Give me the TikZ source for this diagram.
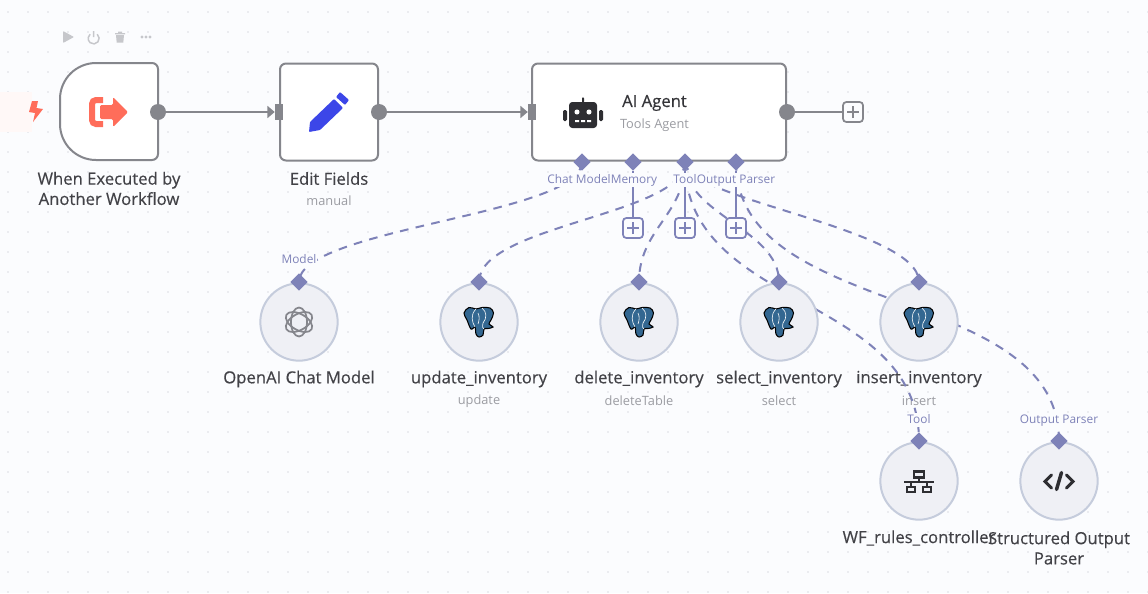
\documentclass[tikz,border=0pt]{standalone}
\usepackage{fontspec}
\setmainfont{Open Sans}
\newfontfamily\semifont[FakeBold=0.4]{Open Sans}
\usetikzlibrary{arrows.meta,shapes.geometric,backgrounds}
\definecolor{canvas}{HTML}{FBFCFE}
\definecolor{griddot}{HTML}{B8B9C2}
\definecolor{wire}{HTML}{85868C}
\definecolor{lilac}{HTML}{7E82B8}
\definecolor{ink}{HTML}{424247}
\definecolor{soft}{HTML}{9B9CA2}
\definecolor{subfill}{HTML}{EFF0F5}
\definecolor{subline}{HTML}{C5CCDC}
\definecolor{flame}{HTML}{FF6D5A}
\definecolor{pgblue}{HTML}{336791}
\definecolor{pen}{HTML}{3C46E8}
\definecolor{toolgrey}{HTML}{C6C7CB}
\tikzset{
 mainbox/.style={draw=wire,fill=white,line width=1.5pt,rounded corners=4.5pt,inner sep=0pt},
 outdot/.style={circle,fill=wire,inner sep=0pt,minimum size=12pt},
 insquare/.style={rectangle,fill=wire,inner sep=0pt,minimum width=6pt,minimum height=12pt},
 link/.style={draw=wire,line width=1.5pt},
 port/.style={diamond,fill=lilac,inner sep=0pt,minimum size=13pt},
 subnode/.style={circle,draw=subline,fill=subfill,line width=1.5pt,inner sep=0pt,minimum size=58pt},
 dashlink/.style={draw=lilac,line width=1.5pt,dash pattern=on 6.5pt off 5.5pt},
 sololink/.style={draw=lilac,line width=1.5pt},
 addbox/.style={rectangle,draw=#1,fill=canvas,line width=1.3pt,rounded corners=2.5pt,inner sep=0pt,minimum size=15pt,
  path picture={\draw[#1,line width=1.2pt]
   ([xshift=-4.5pt]path picture bounding box.center)--([xshift=4.5pt]path picture bounding box.center)
   ([yshift=-4.5pt]path picture bounding box.center)--([yshift=4.5pt]path picture bounding box.center);}},
 title/.style={font=\semifont\fontsize{12.5}{15}\selectfont,text=ink,align=center,inner sep=0pt},
 subtitle/.style={font=\fontsize{9.6}{12}\selectfont,text=soft,inner sep=0pt},
 portlabel/.style={font=\fontsize{8.9}{11}\selectfont,text=lilac,fill=canvas,inner sep=.6pt,text height=7pt,text depth=2pt},
 elephant/.pic={
  \draw[black,fill=pgblue,line width=.8pt] plot[smooth cycle,tension=.6] coordinates
   {(-10,-14.5)(-3,-13)(3,-14.5)(11,-14)(14.5,-9)(12,-2)(10,2)(14,5)(9,6.5)(5,7)(4,13)(0,15)(-3,12)(-4,5)(-8,7)(-12,-2)(-15,-9)};
  \draw[white,line width=.45pt] (-3,-13) .. controls (-9,-7) and (-7,0) .. (-4,5)
   (3,-14) .. controls (8,-10) and (8,-4) .. (4,1) (4,1) .. controls (3,5) and (4,7) .. (5,7)
   (-1,-9) .. controls (1,-5) and (0,-1) .. (-1,2);
 }
}
\begin{document}
\begin{tikzpicture}[x=.75pt,y=-.75pt]
\useasboundingbox (0,0) rectangle (1148,593);

% main row
\node[mainbox,minimum width=73.5pt,minimum height=72.75pt] (fields) at (329,112) {};
\node[mainbox,minimum width=190.5pt,minimum height=72.75pt] (agent) at (659,112) {};
\draw[mainbox] (110,63) -- (158,63) -- (158,160) -- (110,160) [rounded corners=27pt] -- (60,160) -- (60,63) -- (110,63);
\node[outdot] (trigout) at (158,112) {};
\node[outdot] (fieldsout) at (fields.east) {};
\node[outdot] (agentout) at (agent.east) {};
\node[insquare] (fieldsin) at (279,112) {};
\node[insquare] (agentin) at (532,112) {};
\node[addbox=wire] (agentadd) at (853,112) {};

% ports of the agent
\foreach \nm/\xx in {chat/582,memory/633,tool/685,parser/736}
 \node[port] (\nm) at (\xx,162) {};
\node[addbox=lilac] (memoryadd) at (633,228) {};
\node[addbox=lilac] (tooladd) at (685,228) {};
\node[addbox=lilac] (parseradd) at (736,228) {};

% sub nodes
\foreach \nm/\xx/\yy in {model/299/322,update/479/322,delete/639/322,select/779/322,insert/919/322,rules/919/481,output/1059/481}{
 \node[subnode] (\nm) at (\xx,\yy) {};
 \node[port] (in\nm) at (\xx,\yy-40) {};
}
\foreach \nm in {update,delete,select,insert}
 \pic at (\nm) {elephant};

\begin{scope}[on background layer]
\fill[canvas] (0,0) rectangle (1148,593);
\foreach \i in {0,...,57}
 \foreach \j in {0,...,29}
  \fill[griddot] (8+20*\i,12+20*\j) circle (.5pt);
\fill[flame!5] (0,92) rectangle (32,132);
% captions
\node[title] (trigname) at (109,188.5) {When Executed by\\[.2pt]Another Workflow};
\node[title] (fieldsname) at (329,178.5) {Edit Fields};
\node[subtitle] (fieldssub) at (329,200.5) {manual};
\node[title] (modelname) at (299,379) {OpenAI Chat Model};
\foreach \nm/\xx/\cap/\sub in {update/479/update\_inventory/update,delete/639/delete\_inventory/deleteTable,
  select/779/select\_inventory/select,insert/919/insert\_inventory/insert}{
 \node[title] (name\nm) at (\xx,379) {\cap};
 \node[subtitle] (sub\nm) at (\xx,401) {\sub};
}
\node[title] (rulesname) at (919,538) {WF\_rules\_controller};
\node[title] (outputname) at (1059,548) {Structured Output\\[.2pt]Parser};
% connectors
\draw[link,-{Triangle[length=5.5pt,width=9pt]}] (trigout) -- (fieldsin);
\draw[link,-{Triangle[length=5.5pt,width=9pt]}] (fieldsout) -- (agentin);
\draw[link] (agentout) -- (agentadd);
\draw[sololink] (memory) -- (memoryadd);
\draw[sololink] (tool) -- (tooladd);
\draw[sololink] (parser) -- (parseradd);
\draw[dashlink] (chat.center) .. controls (582,215) and (299,228) .. (inmodel.center);
\draw[dashlink] (tool.center) .. controls (685,215) and (479,225) .. (inupdate.center);
\draw[dashlink] (tool.center) .. controls (685,215) and (639,229) .. (indelete.center);
\draw[dashlink] (tool.center) .. controls (685,215) and (779,229) .. (inselect.center);
\draw[dashlink] (tool.center) .. controls (685,200) and (919,228) .. (ininsert.center);
\draw[dashlink] (tool.center) .. controls (685,310) and (919,293) .. (inrules.center);
\draw[dashlink] (parser.center) .. controls (736,320) and (1059,283) .. (inoutput.center);
\end{scope}

% port labels
\node[portlabel] (chatlabel) at (579,180) {Chat Model};
\node[portlabel] (memorylabel) at (634,180) {Memory};
\node[portlabel] (toollabel) at (685,180) {Tool};
\node[portlabel] (parserlabel) at (736,180) {Output Parser};
\node[portlabel] (modellabel) at (299,260) {Model};
\node[portlabel] (ruleslabel) at (919,420) {Tool};
\node[portlabel] (outputlabel) at (1059,420) {Output Parser};

% agent texts
\node[font=\semifont\fontsize{12.5}{15}\selectfont,text=ink!80!black,inner sep=0pt] (agentname) at (654.5,103) {AI Agent};
\node[subtitle] (agentsub) at (654.5,125.5) {Tools Agent};

% tool bar
\fill[toolgrey,rounded corners=.6pt] (63,31) -- (74,37) -- (63,43) -- cycle;
\draw[toolgrey,line width=1.1pt] (97.2,34.2) arc (-50:230:5.5) (93.7,31) -- (93.7,37);
\fill[toolgrey] (115,33) rectangle (125,34.3) (118,31.5) rectangle (122,33) (116,35) -- (124,35) -- (123.3,42.5) -- (116.7,42.5) -- cycle;
\foreach \xx in {142,146,150}
 \fill[toolgrey] (\xx,37) circle (1.3pt);

% trigger icons
\fill[flame] (32,101) -- (38,101) -- (36.5,108) -- (43,109) -- (33,122) -- (35,113) -- (29,112) -- cycle;
\draw[flame,line width=4.5pt,rounded corners=3pt] (103,100) -- (92,100) -- (92,124) -- (103,124);
\fill[flame,rounded corners=1pt] (100,105) -- (113,105) -- (113,97) -- (128,112) -- (113,127) -- (113,119) -- (100,119) -- cycle;

% pencil
\fill[pen,rounded corners=.6pt] (310,122) -- (334,99) -- (343,108) -- (320,130) -- (309,132) -- cycle;
\fill[pen,rounded corners=.6pt] (336,97) -- (340,92) -- (349,100) -- (345,105) -- cycle;

% robot
\fill[ink!70!black,rounded corners=2.5pt] (569,102) rectangle (597,128);
\fill[ink!70!black,rounded corners=1pt] (563,110) rectangle (567,121) (599,110) rectangle (603,121) (582,97) rectangle (584,103);
\fill[white] (577,112) circle (1.9pt) (589,112) circle (1.9pt);
\fill[white] (575,120) rectangle (579,122) (581,120) rectangle (585,122) (587,120) rectangle (591,122);

% openai knot
\foreach \ang in {30,90,150}
 \draw[wire,line width=1.3pt] (model) ellipse[x radius=14.5,y radius=8,rotate=\ang];

% network icon
\begin{scope}[shift={(rules)}]
\draw[ink!70!black,line width=2.1pt] (-5,-9.5) rectangle (5,-3.5) (-12,6) rectangle (-4,11) (4,6) rectangle (12,11);
\draw[ink!70!black,line width=1.6pt] (-15,1) -- (15,1) (0,-3.5) -- (0,1) (-8,1) -- (-8,6) (8,1) -- (8,6);
\end{scope}

% code icon
\begin{scope}[shift={(output)}]
\draw[ink!70!black,line width=2.3pt,line cap=round] (-7.5,-6) -- (-14,0.5) -- (-7.5,7) (7.5,-6) -- (14,0.5) -- (7.5,7);
\draw[ink!70!black,line width=2.6pt,line cap=round] (2.5,-8.5) -- (-2.5,8.5);
\end{scope}
\end{tikzpicture}
\end{document}
